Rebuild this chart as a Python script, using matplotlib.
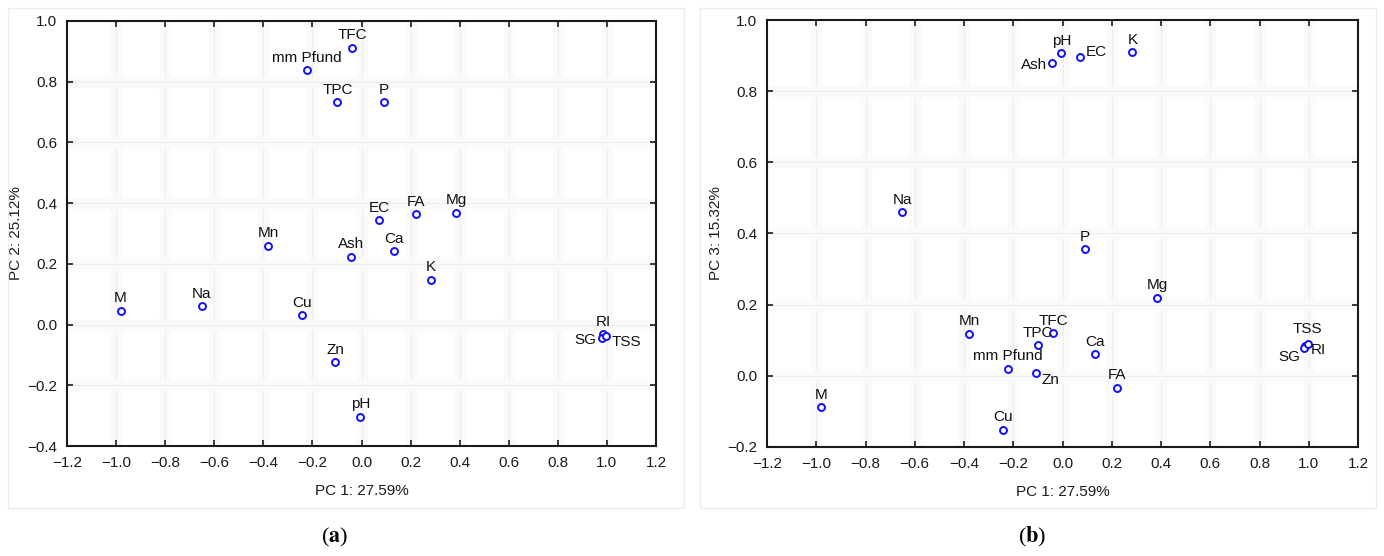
import matplotlib
matplotlib.use('Agg')
import matplotlib.pyplot as plt
from matplotlib.patches import Rectangle

plt.rcParams['font.family'] = ['Liberation Sans', 'DejaVu Sans']
plt.rcParams['mathtext.fontset'] = 'stix'

# variable names and loadings
names = ['TFC', 'mm Pfund', 'TPC', 'P', 'EC', 'FA', 'Mg', 'Mn', 'Ash', 'Ca', 'K',
         'M', 'Na', 'Cu', 'Zn', 'pH', 'RI', 'SG', 'TSS']
pc1 = [-0.037, -0.223, -0.098, 0.090, 0.071, 0.221, 0.385, -0.380, -0.042, 0.133, 0.284,
       -0.982, -0.651, -0.241, -0.108, -0.005, 0.985, 0.981, 0.995]
pc2 = [0.911, 0.838, 0.732, 0.732, 0.344, 0.363, 0.368, 0.260, 0.223, 0.242, 0.148,
       0.045, 0.060, 0.031, -0.124, -0.303, -0.032, -0.043, -0.036]
pc3 = [0.119, 0.020, 0.086, 0.356, 0.897, -0.034, 0.219, 0.118, 0.880, 0.061, 0.909,
       -0.088, 0.460, -0.151, 0.008, 0.906, 0.083, 0.077, 0.089]

xticks = [-1.2, -1.0, -0.8, -0.6, -0.4, -0.2, 0.0, 0.2, 0.4, 0.6, 0.8, 1.0, 1.2]
yticks_a = [-0.4, -0.2, 0.0, 0.2, 0.4, 0.6, 0.8, 1.0]
yticks_b = [-0.2, 0.0, 0.2, 0.4, 0.6, 0.8, 1.0]

# label placement: (dx, dy, ha, va) in points, default above the point
above = (0, 4, 'center', 'bottom')
place_a = {'SG': (-4, -2, 'right', 'center'), 'TSS': (4, -5, 'left', 'center')}
place_b = {'Ash': (-4, -2, 'right', 'center'), 'EC': (4, 3, 'left', 'center'),
           'Zn': (4, -5, 'left', 'center'), 'SG': (-3, -6, 'right', 'center'),
           'RI': (4, -3, 'left', 'center'), 'TSS': (0, 6, 'center', 'bottom')}

fig = plt.figure(figsize=(13.84, 5.56), dpi=100)

# faint frames around each panel
for x0 in [8 / 1384, 700 / 1384]:
    fig.patches.append(Rectangle((x0, 48 / 556), 676 / 1384, 500 / 556, transform=fig.transFigure,
                                 fill=False, edgecolor='#ececec', linewidth=1.0))

ax1 = fig.add_axes([67 / 1384, 1 - 446 / 556, 589 / 1384, 425 / 556])
ax2 = fig.add_axes([767 / 1384, 1 - 447 / 556, 591 / 1384, 427 / 556])


def draw(ax, ys, yticks, ylabel, place):
    ax.set_xlim(-1.2, 1.2)
    ax.set_ylim(yticks[0], yticks[-1])
    ax.set_xticks(xticks)
    ax.set_yticks(yticks)
    ax.set_xticklabels([f'{t:.1f}'.replace('-', '\u2212') for t in xticks])
    ax.set_yticklabels([f'{t:.1f}'.replace('-', '\u2212') for t in yticks])
    for t in xticks[1:-1]:
        ax.axvline(t, color='#fafafb', lw=8, zorder=0)
        ax.axvline(t, color='#ededf1', lw=0.8, zorder=0)
    for t in yticks[1:-1]:
        ax.axhline(t, color='#fafafb', lw=8, zorder=0)
        ax.axhline(t, color='#ededf1', lw=0.8, zorder=0)
    ax.plot(pc1, ys, 'o', ms=5, mfc='white', mec='#1010ff', mew=1.4, zorder=3)
    for n, x, y in zip(names, pc1, ys):
        dx, dy, ha, va = place.get(n, above)
        ax.annotate(n, (x, y), xytext=(dx, dy), textcoords='offset points',
                    ha=ha, va=va, fontsize=11, color='#111111', zorder=4)
    ax.tick_params(direction='in', top=True, right=True, length=4, width=1.2,
                   labelsize=11, pad=7, colors='#1a1a1a')
    for s in ax.spines.values():
        s.set_linewidth(1.5)
        s.set_color('#1a1a1a')
    ax.set_xlabel('PC 1: 27.59%', fontsize=11, labelpad=10, color='#1a1a1a')
    ax.set_ylabel(ylabel, fontsize=11, labelpad=3, color='#1a1a1a')


draw(ax1, pc2, yticks_a, 'PC 2: 25.12%', place_a)
draw(ax2, pc3, yticks_b, 'PC 3: 15.32%', place_b)

fig.text(335 / 1384, 1 - 537 / 556, r'($\mathbf{a}$)', fontsize=16, family='Liberation Serif',
         ha='center', va='center')
fig.text(1032 / 1384, 1 - 537 / 556, r'($\mathbf{b}$)', fontsize=16, family='Liberation Serif',
         ha='center', va='center')

fig.savefig('out.png', dpi=100, facecolor='white')
